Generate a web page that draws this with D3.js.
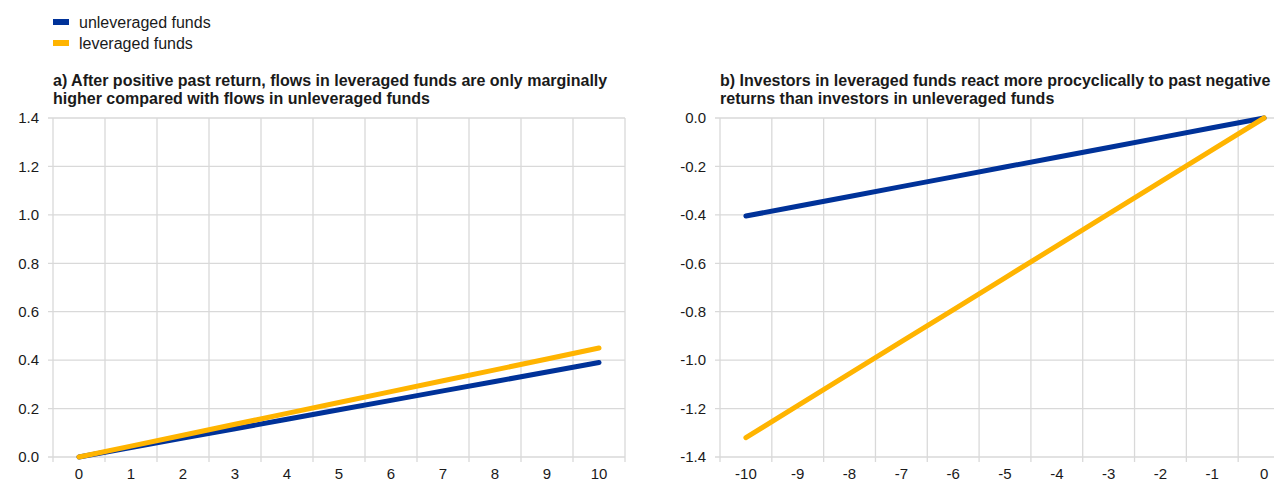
<!DOCTYPE html>
<html><head><meta charset="utf-8">
<script src="https://cdn.jsdelivr.net/npm/d3@7"></script>
<style>body{margin:0;background:#fff}svg{display:block}text{font-family:"Liberation Sans",Arial,sans-serif}</style>
</head><body><svg id="c" width="1274" height="481"></svg>
<script>
const seriesNames = ["unleveraged funds", "leveraged funds"];
const seriesColors = ["#003299", "#FFB400"];
const catsA = ["0","1","2","3","4","5","6","7","8","9","10"];
const unlevA = [0, 0.039, 0.078, 0.117, 0.156, 0.195, 0.234, 0.273, 0.312, 0.351, 0.39];
const levA = [0, 0.045, 0.09, 0.135, 0.18, 0.225, 0.27, 0.315, 0.36, 0.405, 0.45];
const catsB = ["-10","-9","-8","-7","-6","-5","-4","-3","-2","-1","0"];
const unlevB = [-0.405, -0.3645, -0.324, -0.2835, -0.243, -0.2025, -0.162, -0.1215, -0.081, -0.0405, 0];
const levB = [-1.32, -1.188, -1.056, -0.924, -0.792, -0.66, -0.528, -0.396, -0.264, -0.132, 0];
const ticksA = [0, 0.2, 0.4, 0.6, 0.8, 1.0, 1.2, 1.4];
const ticksB = [-1.4, -1.2, -1.0, -0.8, -0.6, -0.4, -0.2, 0.0];
const titleA = ["a) After positive past return, flows in leveraged funds are only marginally", "higher compared with flows in unleveraged funds"];
const titleB = ["b) Investors in leveraged funds react more procyclically to past negative", "returns than investors in unleveraged funds"];

const svg = d3.select("#c");
const grid = "#d9d9d9";
const txt = "#1a1a1a";

// legend
seriesNames.forEach((n, i) => {
  svg.append("rect").attr("x", 53).attr("y", 19 + i * 21).attr("width", 16).attr("height", 6).attr("fill", seriesColors[i]);
  svg.append("text").attr("x", 79).attr("y", 27.5 + i * 21.5).attr("font-size", 16).attr("fill", txt).text(n);
});

function panel(x0, x1, cats, s1, s2, ydom, ticks, title) {
  const top = 118, bottom = 457;
  const x = d3.scaleBand().domain(cats).range([x0, x1]);
  const y = d3.scaleLinear().domain(ydom).range([bottom, top]);
  const g = svg.append("g");
  title.forEach((t, i) => g.append("text").attr("x", x0).attr("y", 86 + i * 18).attr("font-size", 16).attr("font-weight", "bold").attr("fill", txt).text(t));
  // horizontal grid
  g.selectAll(".hg").data(ticks).join("line").attr("x1", x0 - 5).attr("x2", x1).attr("y1", d => y(d)).attr("y2", d => y(d)).attr("stroke", grid).attr("stroke-width", 1.3);
  // vertical grid at band boundaries
  const bounds = cats.map(c => x(c)).concat([x1]);
  g.selectAll(".vg").data(bounds).join("line").attr("x1", d => d).attr("x2", d => d).attr("y1", top).attr("y2", bottom + 5).attr("stroke", grid).attr("stroke-width", 1.3);
  // y labels
  g.selectAll(".yl").data(ticks).join("text").attr("x", x0 - 14).attr("y", d => y(d) + 5.3).attr("text-anchor", "end").attr("font-size", 15).attr("fill", txt).text(d => d3.format(".1f")(d).replace("\u2212", "-"));
  // x labels
  g.selectAll(".xl").data(cats).join("text").attr("x", d => x(d) + x.bandwidth() / 2).attr("y", 479).attr("text-anchor", "middle").attr("font-size", 15).attr("fill", txt).text(d => d);
  const line = d3.line().x((d, i) => x(cats[i]) + x.bandwidth() / 2).y(d => y(d));
  [s1, s2].forEach((s, i) => g.append("path").datum(s).attr("d", line).attr("fill", "none").attr("stroke", seriesColors[i]).attr("stroke-width", 5).attr("stroke-linecap", "round"));
}

panel(53, 625, catsA, unlevA, levA, [0, 1.4], ticksA, titleA);
panel(720, 1290, catsB, unlevB, levB, [-1.4, 0], ticksB, titleB);
</script></body></html>
